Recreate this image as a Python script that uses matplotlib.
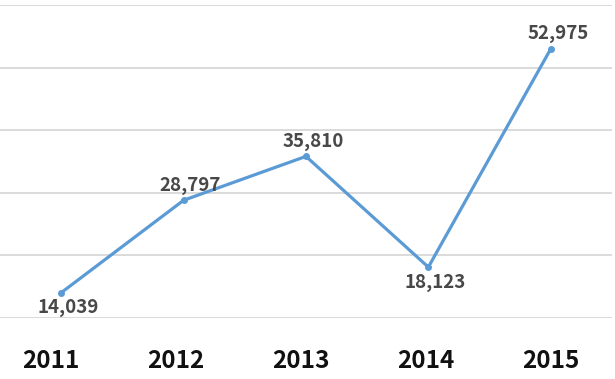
import matplotlib
matplotlib.use("Agg")
import matplotlib.pyplot as plt

# data
years = ["2011", "2012", "2013", "2014", "2015"]
values = [14039, 28797, 35810, 18123, 52975]
label_above = [False, True, True, False, True]

plt.rcParams['font.family'] = ['Noto Sans CJK KR', 'DejaVu Sans']

fig = plt.figure(figsize=(6.15, 3.79), dpi=100)
ax = fig.add_axes([0.0, 0.161, 0.995, 0.826])

x = list(range(len(years)))
ax.plot(x, values, color="#5b9bd5", linewidth=2.3, marker="o", markersize=4,
        solid_capstyle="round", zorder=3)

# value labels, above or below the point
for xi, v, up in zip(x, values, label_above):
    off = 4 if up else -4
    ax.annotate(f"{v:,}", (xi, v), xytext=(5, off), textcoords="offset points",
                ha="center", va="bottom" if up else "top",
                fontsize=13.5, color="#484848", fontweight="bold")

ax.set_xlim(-0.5, 4.5)
ax.set_ylim(10000, 60000)
ax.set_yticks(range(10000, 60001, 10000))
ax.yaxis.grid(True, color="#d4d4d4", linewidth=1.2)
ax.set_axisbelow(True)
ax.tick_params(left=False, labelleft=False, bottom=False, labelbottom=False)
for s in ax.spines.values():
    s.set_visible(False)

# category labels sit on a slightly wider band than the line points
lab = fig.add_axes([-0.0187, 0.161, 1.0163, 0.826], frameon=False)
lab.set_xlim(-0.5, 4.5)
lab.set_yticks([])
lab.set_xticks(x)
lab.set_xticklabels(years, fontsize=17.5, fontweight="bold", color="#111111")
lab.tick_params(axis="x", length=0, pad=22)

fig.savefig("out.png", dpi=100)
